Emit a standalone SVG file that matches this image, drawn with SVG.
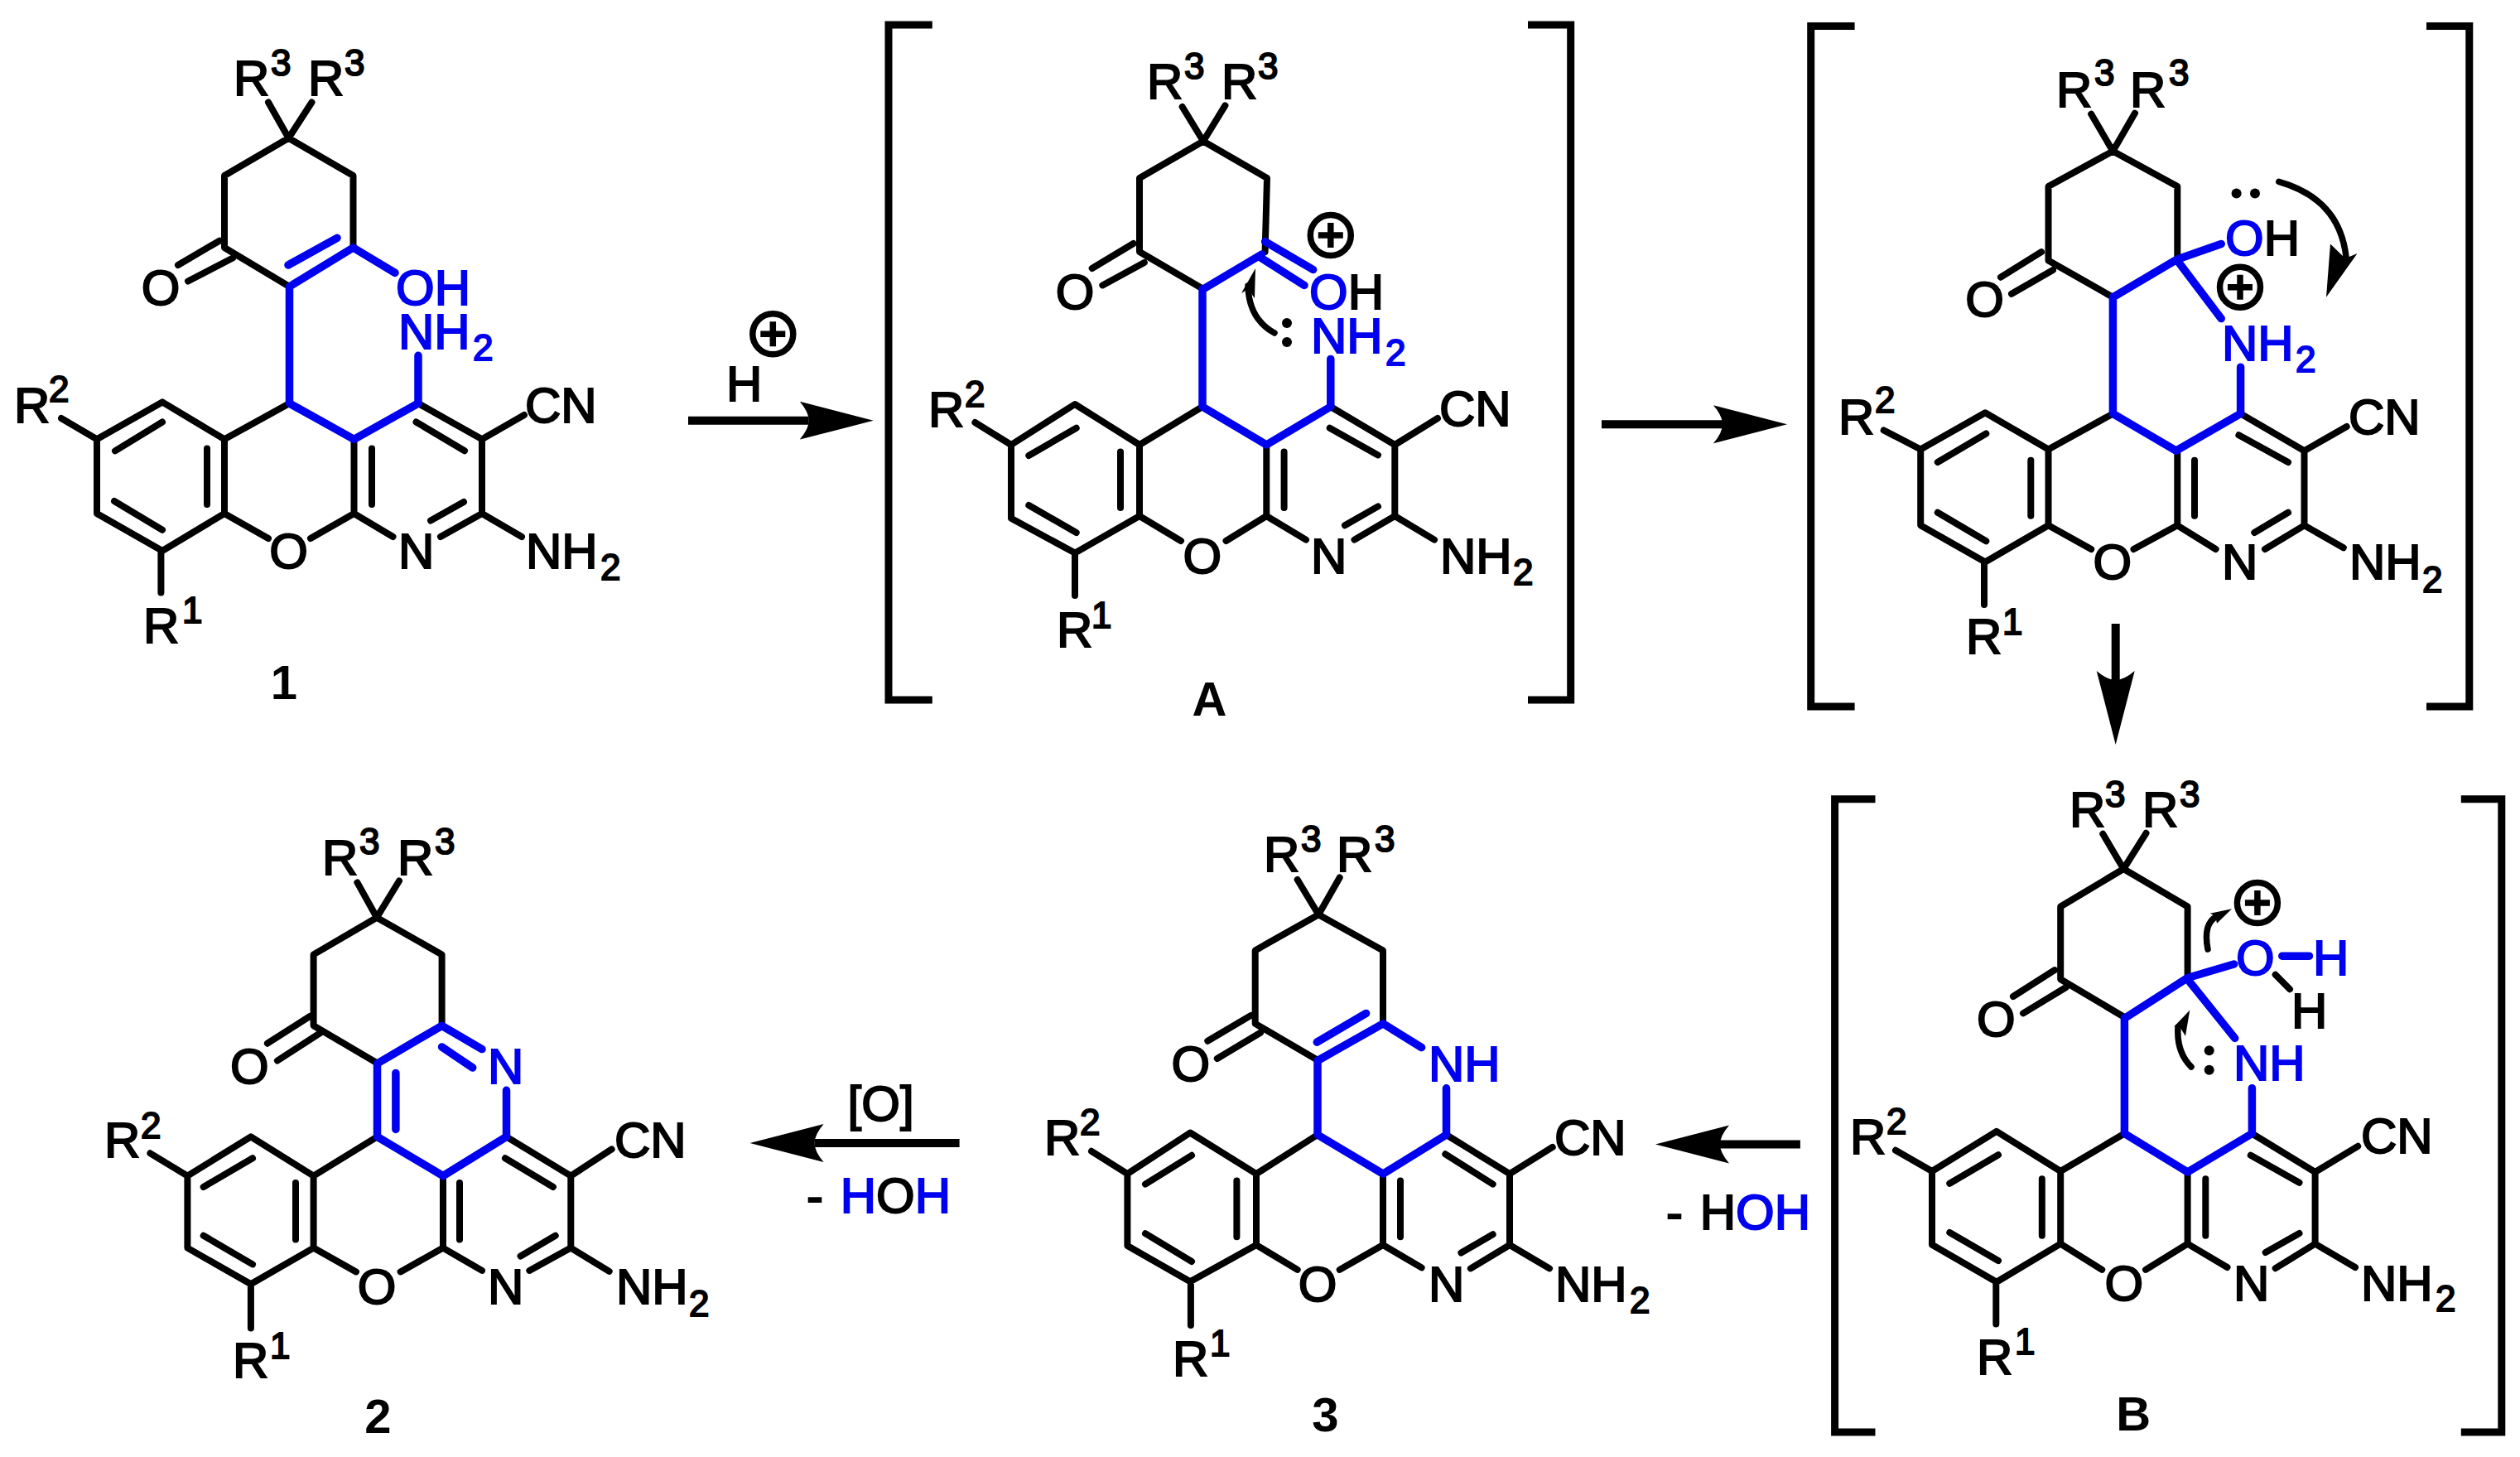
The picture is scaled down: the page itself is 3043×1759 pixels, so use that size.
<svg xmlns="http://www.w3.org/2000/svg" width="3043" height="1759" viewBox="0 0 3043 1759">
<style>
text{font-family:"Liberation Sans",Arial,sans-serif;font-size:60px;fill:#000;stroke:#000;stroke-width:2px}
.u{fill:#0000f0;stroke:#0000f0}
.s{font-size:44px}
.m{text-anchor:middle}
.l{font-weight:bold;font-size:58px;text-anchor:middle;stroke:none}
.k,.b,.br,.ca,.pc,.ar{fill:none;stroke-linecap:round;stroke-linejoin:round}
.k{stroke:#000;stroke-width:8px}
.b{stroke:#0000f0;stroke-width:9.5px}
.br{stroke:#000;stroke-width:9px;stroke-linecap:butt;stroke-linejoin:miter}
.ca{stroke:#000;stroke-width:7.5px}
.pc{stroke:#000;stroke-width:7.5px;stroke-linecap:butt}
.ar{stroke:#000;stroke-width:10px;stroke-linecap:butt}
.f{fill:#000;stroke:none}
</style>
<defs>
<marker id="head" markerUnits="userSpaceOnUse" markerWidth="90" markerHeight="48" refX="11" refY="23" orient="auto">
<path d="M0,0L89,23L0,46Q11,33 11,23Q11,13 0,0Z" fill="#000"/>
</marker>
</defs>

<g id="connectors">
<line class="ar" x1="831" y1="507.7" x2="976.7" y2="507.7" marker-end="url(#head)"/>
<line class="ar" x1="1934" y1="512.3" x2="2080" y2="512.3" marker-end="url(#head)"/>
<line class="ar" x1="2554.7" y1="753" x2="2554.7" y2="821" marker-end="url(#head)"/>
<line class="ar" x1="2173.9" y1="1381.5" x2="2077" y2="1381.5" marker-end="url(#head)"/>
<line class="ar" x1="1158.6" y1="1380" x2="983.6" y2="1380" marker-end="url(#head)"/>
</g>

<g id="reagent-h">
<text x="877" y="484">H</text>
<circle class="pc" cx="933.3" cy="403.3" r="24.5"/>
<path class="pc" d="M918.3,403.3H948.3M933.3,388.3V418.3"/>
</g>
<g id="reagent-o">
<text class="m" x="1063.6" y="1352.6">[O]</text>
<text x="974" y="1464.4" word-spacing="4">- <tspan class="u">H</tspan>O<tspan class="u">H</tspan></text>
</g>
<g id="reagent-hoh">
<text x="2012" y="1484.2" word-spacing="4">- H<tspan class="u">OH</tspan></text>
</g>

<g id="mol-1">
<path class="k" d="M324,123.5L348.5,166.7L376.5,123.5M348.5,166.7L271,212V299L349.5,346M348.5,166.7L426.5,212V299M265,290.7L215,320M281,311.5L227,339.5M196,485.4L271,530.3V620L196,665L117,620V530.3ZM139,544.3L196,509.5M138,605L196,639.7M250,541.5V609M271,530.3L349.5,487M271,620L324,650M375,650L427.5,620V530.3M449,541.5V609M505,487L582,530.3V620L532,648M502.5,509.5L561,544.3M520,628.5L560,606M427.5,620L474.5,648M582,620L630,648M582,530.3L633,501M74,505L117,530.3M194.4,665V715.5"/>
<path class="b" d="M477,329.4L426.5,299L349.5,346V487L427.5,530.3L505,487V429.3M348,320L407,287.3"/>
<text class="m" x="194" y="367.6">O</text>
<text class="u" x="478" y="367.6">OH</text>
<text class="u" x="481" y="421">NH<tspan x="571" y="435" class="s">2</tspan></text>
<text x="282" y="115">R<tspan x="327" y="91" class="s">3</tspan></text>
<text x="372" y="115">R<tspan x="416" y="91" class="s">3</tspan></text>
<text x="17" y="509.5">R<tspan x="59" y="485.4" class="s">2</tspan></text>
<text x="634" y="509.5">CN</text>
<text class="m" x="348.5" y="685.7">O</text>
<text x="481" y="685.7">N</text>
<text x="635" y="685.7">NH<tspan x="725" y="700" class="s">2</tspan></text>
<text x="173" y="775.5">R<tspan x="220" y="752" class="s">1</tspan></text>
<text class="l" x="343" y="843.5">1</text>
</g>

<g id="mol-A">
<path class="br" d="M1125.8,30H1073V845H1125.8M1845,30H1896.7V845H1845"/>
<path class="k" d="M1427.7,129L1453,170.5L1479.4,127.4M1453,170.5L1376,215V304L1453,349M1453,170.5L1530,215L1527.6,304M1368.6,294L1318.7,324M1381.8,317L1331.3,344.4M1298,488L1376,537V623L1298,667.6L1221,625.7V537ZM1242.3,550L1299.7,516.7M1242.3,610L1299.7,643M1353,545.4V613M1376,537L1452,491M1376,623L1426,653M1480.5,653L1529.3,623V537M1550.6,545.4V613M1606.8,491L1684.3,537V623L1635.5,651.6M1605.7,516.7L1664,549.4M1624,634.3L1664,611.4M1529.3,623L1577,651.6M1684.3,537L1736,505M1684.3,623L1732,651.6M1177.4,510L1221,537M1298,667.6V719"/>
<path class="b" d="M1453,349L1523.6,307M1527.6,291.6L1585.6,325.5M1520.7,310L1575,344.4M1452,349V491L1529.3,537L1606.8,491V433.4"/>
<path class="ca" d="M1539,402Q1508,385 1507,345"/>
<path class="f" d="M1516,324L1499,354L1507,349L1515,360Z"/>
<circle class="f" cx="1554" cy="390" r="6"/><circle class="f" cx="1554" cy="413" r="6"/>
<circle class="pc" cx="1606.8" cy="284" r="24.5"/>
<path class="pc" d="M1591.8,284H1621.8M1606.8,269V299"/>
<text class="m" x="1298" y="373">O</text>
<text x="1581" y="373"><tspan class="u">O</tspan>H</text>
<text class="u" x="1583" y="426">NH<tspan x="1673" y="441" class="s">2</tspan></text>
<text x="1385" y="118.8">R<tspan x="1430" y="94.7" class="s">3</tspan></text>
<text x="1475" y="118.8">R<tspan x="1519" y="94.7" class="s">3</tspan></text>
<text x="1121" y="515">R<tspan x="1165" y="491" class="s">2</tspan></text>
<text x="1738" y="514">CN</text>
<text class="m" x="1451.8" y="691.7">O</text>
<text x="1583" y="691.7">N</text>
<text x="1739" y="691.7">NH<tspan x="1827" y="706" class="s">2</tspan></text>
<text x="1276" y="780.7">R<tspan x="1318" y="757.7" class="s">1</tspan></text>
<text class="l" x="1460.4" y="864">A</text>
</g>

<g id="mol-intermediate">
<path class="br" d="M2239.6,31.6H2186.7V853H2239.6M2930,31.6H2981.8V853H2930"/>
<path class="k" d="M2525.2,137.8L2551.4,182.5L2578,136.6M2551.4,182.5L2473.5,225V314.6L2551.4,358.8M2551.4,182.5L2629.3,225V312.9M2465,304.2L2416,334.7M2479,326L2429,354.8M2397.2,498.3L2473.5,542.5V634.3L2397.2,678.5L2319.2,634.3V542.5ZM2339.8,558L2398.3,523.5M2339.8,618.8L2398.3,653.3M2452.3,555.7V622.8M2473.5,542.5L2551.4,499.4M2473.5,634.3L2525.2,663M2576.5,663L2629.3,634.3V544.2M2650,555.7V622.8M2705.6,499.4L2782.5,544.2V634.3L2735,663M2703.4,525.3L2763,558M2722.3,643L2763,618.8M2629.3,634.3L2675.6,663M2782.5,544.2L2833.7,515M2782.5,634.3L2829.8,661.3M2274.7,519.5L2319.2,542.5M2396,678.5V730"/>
<path class="b" d="M2551.4,358.8L2629.3,312.9L2682.2,294.5M2629.3,314.6L2682.2,384.6M2551.4,358.8V499.4L2627.7,544.2L2705.6,499.4V443.2"/>
<path class="ca" d="M2751.8,219.3Q2825,240 2833,310"/>
<path class="f" d="M2809,358.8L2814,294.5L2832,312L2846.5,306Z"/>
<circle class="f" cx="2700.6" cy="233.6" r="6"/><circle class="f" cx="2723" cy="233.6" r="6"/>
<circle class="pc" cx="2705" cy="346.7" r="24.5"/>
<path class="pc" d="M2690,346.7H2720M2705,331.7V361.7"/>
<text class="m" x="2396.6" y="381.7">O</text>
<text x="2687" y="308.3"><tspan class="u">O</tspan>H</text>
<text class="u" x="2683" y="434.6">NH<tspan x="2772" y="449" class="s">2</tspan></text>
<text x="2483" y="129">R<tspan x="2529" y="103.3" class="s">3</tspan></text>
<text x="2572" y="129">R<tspan x="2619" y="103.3" class="s">3</tspan></text>
<text x="2220" y="524">R<tspan x="2264" y="498.3" class="s">2</tspan></text>
<text x="2836" y="523.5">CN</text>
<text class="m" x="2550.8" y="699">O</text>
<text x="2683" y="699">N</text>
<text x="2837" y="699">NH<tspan x="2925" y="714.7" class="s">2</tspan></text>
<text x="2374" y="789.3">R<tspan x="2418" y="766.4" class="s">1</tspan></text>
</g>

<g id="mol-B">
<path class="br" d="M2264.5,964.7H2215.6V1729H2264.5M2971.8,964.7H3020.8V1729H2971.8"/>
<path class="k" d="M2539.3,1006.8L2564.3,1049L2591.5,1005.8M2564.3,1049L2488.2,1094.5V1182.2L2566.5,1228.8M2564.3,1049L2641.6,1094.5V1180.5M2481,1171.2L2431,1203M2494.7,1192L2443,1223.3M2410.9,1365.8L2488.2,1414V1501.6L2410.9,1547.7L2333,1502.7V1414ZM2354.3,1428.8L2413,1394.2M2354.3,1488L2413,1522M2465.8,1423.3V1491.8M2488.2,1414L2565.4,1368.5M2488.2,1501.6L2538.2,1532.9M2591,1532.9L2641.6,1501.6V1415M2663.3,1423.3V1491.8M2719.4,1368.5L2795.6,1415V1501.6L2747.7,1531.2M2717.8,1394.8L2776.5,1427.7M2735.7,1512L2776.5,1489M2641.6,1501.6L2689.5,1530M2795.6,1415L2847.2,1383.8M2795.6,1501.6L2844,1530M2289,1388.8L2333,1414M2410.3,1547.7V1598.6M2747.7,1176.7L2765,1194.2"/>
<path class="b" d="M2566.5,1228.8L2641.6,1180.5L2697.6,1164M2641.6,1182.2L2698.7,1253.4M2565.4,1228.8V1368.5L2641.6,1415L2719.4,1368.5V1313.7M2755.8,1154.2H2788.5"/>
<path class="ca" d="M2666,1146Q2660,1115 2677,1106"/>
<path class="f" d="M2695,1097.3L2668.8,1102.7L2675,1106L2677,1114.8Z"/>
<path class="ca" d="M2646,1288Q2628,1270 2630,1240"/>
<path class="f" d="M2644.3,1219.5L2625,1239.7L2631,1238L2639,1250.7Z"/>
<circle class="f" cx="2667.7" cy="1268.2" r="6"/><circle class="f" cx="2667.7" cy="1291.8" r="6"/>
<circle class="pc" cx="2725.9" cy="1090.1" r="24.5"/>
<path class="pc" d="M2710.9,1090.1H2740.9M2725.9,1075.1V1105.1"/>
<text class="m" x="2410.3" y="1250.7">O</text>
<text class="u" x="2700" y="1176.7">O</text>
<text class="u" x="2793" y="1176.7">H</text>
<text x="2767" y="1240.8">H</text>
<text class="u" x="2697" y="1303.8">NH</text>
<text x="2499" y="997.5">R<tspan x="2542" y="974" class="s">3</tspan></text>
<text x="2587" y="997.5">R<tspan x="2632" y="974" class="s">3</tspan></text>
<text x="2234" y="1393">R<tspan x="2278" y="1368.5" class="s">2</tspan></text>
<text x="2851" y="1391.5">CN</text>
<text class="m" x="2564.9" y="1569.6">O</text>
<text x="2697" y="1569.6">N</text>
<text x="2851" y="1569.6">NH<tspan x="2941" y="1583.3" class="s">2</tspan></text>
<text x="2387" y="1658.9">R<tspan x="2433" y="1635.3" class="s">1</tspan></text>
<text class="l" x="2576.3" y="1727.4">B</text>
</g>

<g id="mol-3">
<path class="k" d="M1566.7,1062L1592.2,1104.2L1617.7,1059.5M1592.2,1104.2L1515.7,1147.4V1235.8L1592.2,1280.5M1592.2,1104.2L1670,1147.4V1235.8M1510.6,1225.9L1458.3,1256.7M1522,1246.8L1469.8,1278M1437.2,1367.5L1517,1417.2V1503L1437.2,1547.3L1361.4,1504V1417.2ZM1383,1429.6L1439,1394.8M1383,1489.2L1439,1523M1493.4,1425.6V1493.2M1517,1417.2L1591,1370M1517,1503L1566.7,1532.9M1617.7,1532.9L1670,1503V1417.2M1691,1425.6V1493.2M1746.5,1370L1823,1417.2V1503L1775.9,1531.4M1745.3,1393.3L1802.7,1429.6M1764.4,1512.5L1802.7,1490.2M1670,1503L1716.6,1530.4M1823,1417.2L1874.7,1384.9M1823,1503L1871,1531.4M1318,1389.8L1361.4,1417.2M1437.9,1547.3V1600"/>
<path class="b" d="M1591,1280.5L1670,1235.8L1716.6,1264.6M1590.3,1258.2L1649.6,1223.4M1591,1280.5V1370L1670,1417.2L1746.5,1370V1313.8"/>
<text class="m" x="1437.9" y="1305.4">O</text>
<text class="u" x="1725" y="1305.4">NH</text>
<text x="1526" y="1052">R<tspan x="1571" y="1028" class="s">3</tspan></text>
<text x="1614" y="1052">R<tspan x="1660" y="1028" class="s">3</tspan></text>
<text x="1261" y="1393.8">R<tspan x="1304" y="1370" class="s">2</tspan></text>
<text x="1877" y="1393.8">CN</text>
<text class="m" x="1591" y="1571">O</text>
<text x="1725" y="1571">N</text>
<text x="1878" y="1571">NH<tspan x="1968" y="1585" class="s">2</tspan></text>
<text x="1416" y="1660.6">R<tspan x="1461" y="1636.7" class="s">1</tspan></text>
<text class="l" x="1600.5" y="1727.6">3</text>
</g>

<g id="mol-2">
<path class="k" d="M431.4,1065.4L455,1107.7L482,1063.5M455,1107.7L378.6,1152.4V1238.3L456.4,1284M455,1107.7L533.6,1152.4V1238.3M374.3,1226.9L322.9,1259.7M387,1246.8L335,1280.5M302.9,1372.4L378.6,1419.6V1506.6L302.9,1550.3L226.4,1506.6V1419.6ZM245.7,1433L305,1398.3M245.7,1491.7L305,1526.4M357,1428V1496.6M378.6,1419.6L455.5,1372.4M378.6,1506.6L430,1535.4M483.6,1535.4L535,1506.6V1419.6M555,1428V1496.6M611.5,1372.4L689.3,1419.6V1506.6L639.3,1533.9M610,1398.3L667.9,1433M628.6,1516.5L670.7,1491.7M535,1506.6L582,1533.9M689.3,1419.6L738.6,1387.4M689.3,1506.6L735.7,1534.9M181.4,1392.3L226.4,1419.6M302.9,1550.3V1603.4"/>
<path class="b" d="M455.5,1284L533.6,1238.3L582,1266.6M533.6,1264L570.7,1289M455.5,1284V1372.4L535,1419.6L611.5,1372.4V1316.3M477.9,1295.4V1363.5"/>
<text class="m" x="301.4" y="1307.9">O</text>
<text class="u" x="589" y="1307.9">N</text>
<text x="389" y="1055.5">R<tspan x="434" y="1031" class="s">3</tspan></text>
<text x="480" y="1055.5">R<tspan x="525" y="1031" class="s">3</tspan></text>
<text x="126" y="1397.3">R<tspan x="170" y="1374" class="s">2</tspan></text>
<text x="742" y="1397.3">CN</text>
<text class="m" x="455" y="1573.6">O</text>
<text x="589" y="1573.6">N</text>
<text x="744" y="1573.6">NH<tspan x="832" y="1588.5" class="s">2</tspan></text>
<text x="281" y="1663">R<tspan x="326" y="1639.7" class="s">1</tspan></text>
<text class="l" x="456.4" y="1730">2</text>
</g>
</svg>
